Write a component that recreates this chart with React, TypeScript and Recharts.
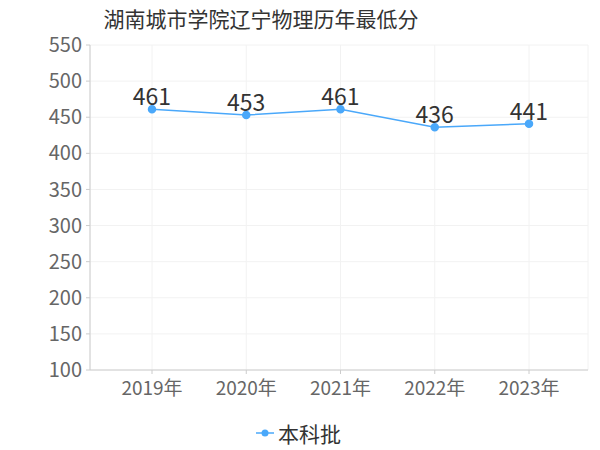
import React from 'react';
import { LineChart, Line, XAxis, YAxis, CartesianGrid, LabelList } from 'recharts';

const years = ['2019年', '2020年', '2021年', '2022年', '2023年'];
const scores = [461, 453, 461, 436, 441];
const yTicks = [100, 150, 200, 250, 300, 350, 400, 450, 500, 550];

const data = years.map((year, i) => ({ year, score: scores[i] }));

const FONT = '"Noto Sans CJK SC", "Noto Sans", sans-serif';
const LINE_COLOR = '#4aa8fa';

export default function App() {
  return (
    <div style={{ position: 'absolute', left: 0, top: 0, width: 600, height: 450, background: '#fff', fontFamily: FONT }}>
      <div style={{ position: 'absolute', left: 0, width: 522, top: 3, textAlign: 'center', fontSize: 21, color: '#333' }}>
        湖南城市学院辽宁物理历年最低分
      </div>
      <LineChart width={600} height={450} data={data} margin={{ top: 45, right: 12, bottom: 50, left: 0 }}>
        <CartesianGrid stroke="#f2f2f2" />
        <XAxis
          dataKey="year"
          padding={{ left: 62, right: 59 }}
          tick={{ fontSize: 19, fill: '#666', fontFamily: FONT }}
          tickLine={{ stroke: '#ccc' }}
          axisLine={{ stroke: '#ccc' }}
          tickSize={4}
          tickMargin={8}
        />
        <YAxis
          width={90}
          domain={[100, 550]}
          ticks={yTicks}
          interval={0}
          tick={{ fontSize: 20, fill: '#666', fontFamily: FONT }}
          tickLine={{ stroke: '#ccc' }}
          axisLine={{ stroke: '#ccc' }}
          tickSize={4}
          tickMargin={4}
        />
        <Line
          type="linear"
          dataKey="score"
          stroke={LINE_COLOR}
          strokeWidth={1.5}
          dot={{ r: 3.5, fill: LINE_COLOR, stroke: LINE_COLOR }}
          isAnimationActive={false}
        >
          <LabelList dataKey="score" position="top" offset={4} style={{ fontSize: 23, fill: '#333', fontFamily: FONT }} />
        </Line>
      </LineChart>
      <div style={{ position: 'absolute', left: 256, top: 418, display: 'flex', alignItems: 'center', fontSize: 21, color: '#333' }}>
        <svg width={18} height={12} style={{ marginRight: 4 }}>
          <line x1={0} y1={6} x2={18} y2={6} stroke={LINE_COLOR} strokeWidth={1.5} />
          <circle cx={9} cy={6} r={3.5} fill={LINE_COLOR} />
        </svg>
        本科批
      </div>
    </div>
  );
}
